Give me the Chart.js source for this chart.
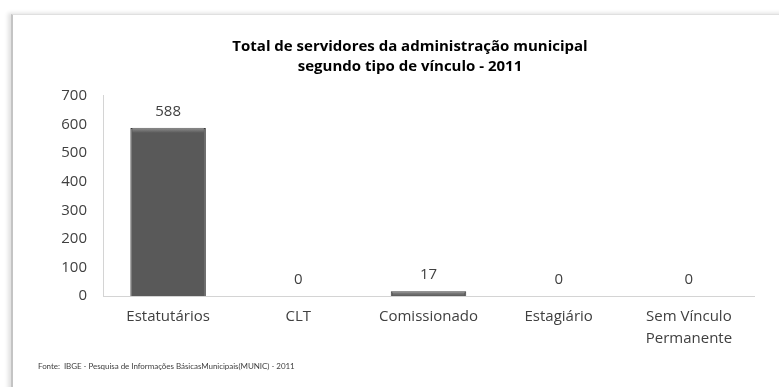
<!DOCTYPE html>
<html lang="pt">
<head>
<meta charset="utf-8">
<title>Total de servidores da administração municipal</title>
<script src="https://cdn.jsdelivr.net/npm/chart.js@4/dist/chart.umd.min.js"></script>
<style>
  html, body { margin: 0; padding: 0; background: #ffffff; overflow: hidden; }
  #wrap { position: relative; width: 779px; height: 387px; }
  #frame {
    position: absolute; left: 11px; top: 14px; width: 800px; height: 400px;
    border-left: 2px solid #c4c4c4; border-top: 1px solid #e0e0e0;
    box-shadow: -3px -1px 4px rgba(0,0,0,0.12);
  }
  canvas { position: absolute; left: 0; top: 0; }
  #fonte {
    position: absolute; left: 38px; top: 361px;
    font-family: Lato, "Open Sans", sans-serif; font-size: 8px; color: #404040;
    white-space: nowrap; letter-spacing: -0.05px;
  }
</style>
</head>
<body>
<div id="wrap">
  <div id="frame"></div>
  <canvas id="chart" width="779" height="387"></canvas>
  <div id="fonte">Fonte:&nbsp; IBGE - Pesquisa de Informações BásicasMunicipais(MUNIC) - 2011</div>
</div>
<script>
// Tipos de vínculo e número de servidores (2011)
const categories = ['Estatutários', 'CLT', 'Comissionado', 'Estagiário', ['Sem Vínculo', 'Permanente']];
const servidores = [588, 0, 17, 0, 0];
const yTicks = [0, 100, 200, 300, 400, 500, 600, 700];
const titleLines = ['Total de servidores da administração municipal', 'segundo tipo de vínculo - 2011'];

const FONT = '"Open Sans", Lato, sans-serif';

// Horizontal shading for each bar, giving a rounded, bevelled look
function barFill(ctx) {
  const chart = ctx.chart;
  const el = ctx.element;
  const meta = chart.getDatasetMeta(ctx.datasetIndex);
  const bar = el || (meta && meta.data[ctx.dataIndex]);
  if (!bar || !isFinite(bar.x) || !bar.width) return '#595959';
  const left = bar.x - bar.width / 2, right = bar.x + bar.width / 2;
  const g = chart.ctx.createLinearGradient(left, 0, right, 0);
  g.addColorStop(0, '#3a3a3a');
  g.addColorStop(0.1, '#575757');
  g.addColorStop(0.5, '#616161');
  g.addColorStop(0.9, '#575757');
  g.addColorStop(1, '#3a3a3a');
  return g;
}

// Value labels above each bar
const valueLabels = {
  id: 'valueLabels',
  afterDatasetsDraw(chart) {
    const { ctx } = chart;
    const meta = chart.getDatasetMeta(0);
    ctx.save();
    ctx.font = '15px ' + FONT;
    ctx.fillStyle = '#404040';
    ctx.textAlign = 'center';
    ctx.textBaseline = 'bottom';
    meta.data.forEach((bar, i) => {
      ctx.fillText(String(servidores[i]), bar.x, bar.y - 9);
    });
    ctx.restore();
  }
};

// Light top edge on the bars
const barBevel = {
  id: 'barBevel',
  afterDatasetsDraw(chart) {
    const { ctx } = chart;
    const meta = chart.getDatasetMeta(0);
    ctx.save();
    meta.data.forEach((bar) => {
      const h = bar.base - bar.y;
      if (h < 4) return;
      const left = bar.x - bar.width / 2;
      const g = ctx.createLinearGradient(0, bar.y, 0, bar.y + 5);
      g.addColorStop(0, 'rgba(150,150,150,0.9)');
      g.addColorStop(1, 'rgba(150,150,150,0)');
      ctx.fillStyle = g;
      ctx.fillRect(left + 2, bar.y, bar.width - 4, 5);
    });
    ctx.restore();
  }
};

// The title sits a little right of the canvas centre line
const titleShift = {
  id: 'titleShift',
  afterLayout(chart) {
    const t = chart.titleBlock;
    if (t) { t.left += 12; t.right += 12; }
  }
};

new Chart(document.getElementById('chart'), {
  type: 'bar',
  data: {
    labels: categories,
    datasets: [{
      data: servidores,
      backgroundColor: barFill,
      borderColor: '#3c3c3c',
      borderWidth: 1,
      borderSkipped: 'bottom',
      barPercentage: 0.58,
      categoryPercentage: 1.0
    }]
  },
  options: {
    responsive: false,
    animation: false,
    layout: { padding: { left: 42, right: 25, top: 0, bottom: 41 } },
    plugins: {
      legend: { display: false },
      tooltip: { enabled: false },
      title: {
        display: true,
        text: titleLines,
        color: '#000000',
        font: { family: FONT, size: 15, weight: 'bold', lineHeight: 1.33 },
        padding: { top: 37, bottom: 19 }
      }
    },
    scales: {
      x: {
        grid: { display: false, drawTicks: false },
        border: { display: true, color: '#d4d4d4', width: 1 },
        ticks: {
          color: '#404040',
          font: { family: FONT, size: 15, lineHeight: 1.5 },
          padding: 9,
          maxRotation: 0,
          autoSkip: false
        },
        afterFit(scale) { scale.height = 50; }
      },
      y: {
        min: 0,
        max: 700,
        afterBuildTicks(scale) { scale.ticks = yTicks.map(v => ({ value: v })); },
        grid: { display: false, drawTicks: false },
        border: { display: true, color: '#d4d4d4', width: 1 },
        ticks: {
          color: '#404040',
          font: { family: FONT, size: 15 },
          padding: 16
        },
        afterFit(scale) { scale.width = 61; }
      }
    }
  },
  plugins: [valueLabels, barBevel, titleShift]
});
</script>
</body>
</html>
